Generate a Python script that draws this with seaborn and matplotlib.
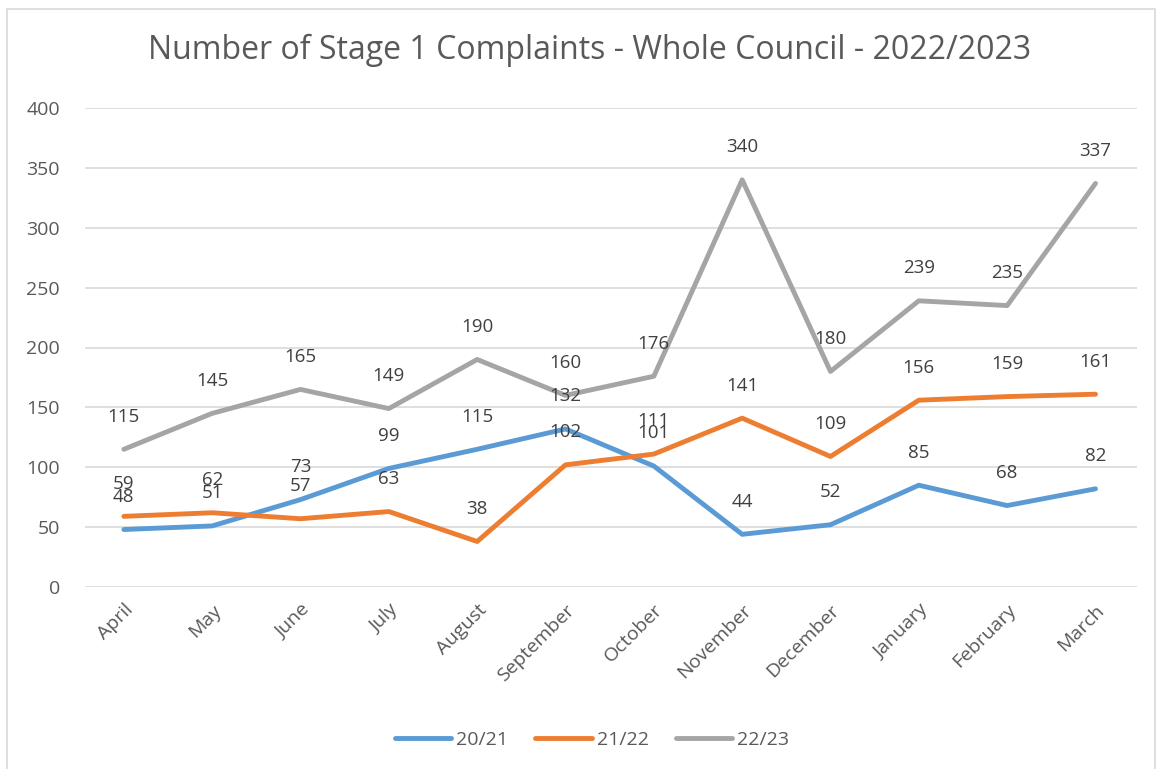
import numpy as np
import pandas as pd
import matplotlib
matplotlib.use("Agg")
import matplotlib.pyplot as plt
from matplotlib.patches import Rectangle
import seaborn as sns

months = ["April", "May", "June", "July", "August", "September", "October",
          "November", "December", "January", "February", "March"]
y2021 = [48, 51, 73, 99, 115, 132, 101, 44, 52, 85, 68, 82]
y2122 = [59, 62, 57, 63, 38, 102, 111, 141, 109, 156, 159, 161]
y2223 = [115, 145, 165, 149, 190, 160, 176, 340, 180, 239, 235, 337]
series = ["20/21", "21/22", "22/23"]
colors = ["#5B9BD5", "#ED7D31", "#A5A5A5"]

df = pd.DataFrame({"month": months * 3,
                   "x": list(range(12)) * 3,
                   "value": y2021 + y2122 + y2223,
                   "series": [s for s in series for _ in months]})

sns.set_style("white")
plt.rcParams['font.family'] = ['Open Sans', 'DejaVu Sans']
txt = "#595959"

fig = plt.figure(figsize=(11.62, 7.69), dpi=100)
ax = fig.add_axes([85/1162, 182/769, (1137-85)/1162, (587-108)/769])

sns.lineplot(data=df, x="x", y="value", hue="series", palette=colors,
             linewidth=3.5, ax=ax, legend=True, sort=False)

# data labels above every point
for vals in [y2021, y2122, y2223]:
    for i, v in enumerate(vals):
        ax.annotate(str(v), (i, v), xytext=(0, 23.5), textcoords="offset points",
                    ha="center", va="center", fontsize=13.5, color="#404040")

ax.set_xlim(-0.44, 11.47)
ax.set_ylim(0, 400)
ax.set_yticks(range(0, 401, 50))
ax.set_xticks(range(12))
ax.set_xticklabels(months, rotation=45, ha="right", rotation_mode="anchor")
ax.tick_params(axis="both", length=0, labelsize=14, labelcolor=txt)
ax.tick_params(axis="y", pad=18)
ax.tick_params(axis="x", pad=10)
ax.grid(axis="y", color="#D9D9D9", linewidth=1.2)
for s in ax.spines.values():
    s.set_visible(False)
ax.set_xlabel("")
ax.set_ylabel("")

h, l = ax.get_legend_handles_labels()
ax.legend(h, l, loc="center", bbox_to_anchor=(0.482, (769 - 740 - 182) / (587 - 108)),
          ncol=3, frameon=False, fontsize=14, labelcolor=txt, handlelength=2.9,
          columnspacing=1.4, handletextpad=0.25)

fig.text(590/1162, 1 - 50/769, "Number of Stage 1 Complaints - Whole Council - 2022/2023",
         ha="center", va="center", fontsize=23, color=txt)

# chart border
fig.patches.append(Rectangle((7/1162, -0.01), (1155-7)/1162, 1 - 9/769 + 0.01,
                             transform=fig.transFigure, fill=False,
                             edgecolor="#D9D9D9", linewidth=1.2))

fig.savefig("out.png", dpi=100)
